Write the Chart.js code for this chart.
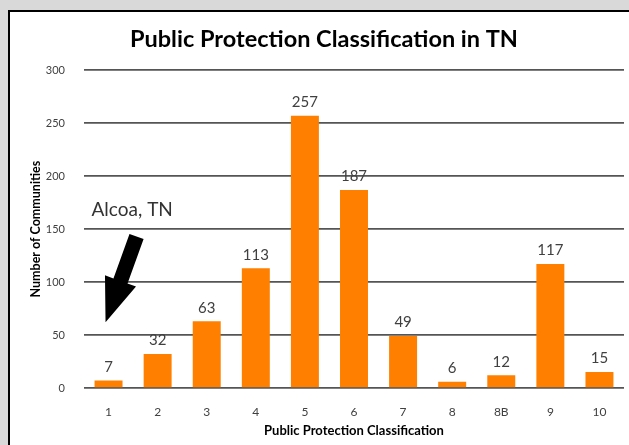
<!DOCTYPE html>
<html>
<head>
<meta charset="utf-8">
<title>Public Protection Classification in TN</title>
<script src="https://cdn.jsdelivr.net/npm/chart.js@4.4.1/dist/chart.umd.min.js"></script>
<style>
  body { margin: 0; background: #d9d9d9; width: 629px; height: 445px; overflow: hidden; position: relative; }
  #panel { position: absolute; left: 8px; top: 10px; width: 640px; height: 460px; background: #fff; border-left: 2px solid #000; border-top: 2px solid #000; }
  #myChart { position: absolute; left: 0; top: 0; }
</style>
</head>
<body>
<div id="panel"></div>
<canvas id="myChart" width="629" height="445"></canvas>
<script>
'use strict';
let classes = ['1', '2', '3', '4', '5', '6', '7', '8', '8B', '9', '10'];
let communities = [7, 32, 63, 113, 257, 187, 49, 6, 12, 117, 15];
let yTicks = [0, 50, 100, 150, 200, 250, 300];

let barColor = 'rgb(255, 128, 0)';
let textColor = '#404040';
let fontName = 'Lato, "Open Sans", sans-serif';

// value labels over each bar
let valueLabels = {
    id: 'valueLabels',
    afterDatasetsDraw(chart) {
        let ctx = chart.ctx;
        let meta = chart.getDatasetMeta(0);
        ctx.save();
        ctx.font = '15px ' + fontName;
        ctx.fillStyle = textColor;
        ctx.textAlign = 'center';
        ctx.textBaseline = 'bottom';
        for (let i = 0; i < meta.data.length; i++) {
            let bar = meta.data[i];
            ctx.fillText(communities[i], bar.x, bar.y - 6);
        }
        ctx.restore();
    }
};

// "Alcoa, TN" note with the big black arrow
let alcoaNote = {
    id: 'alcoaNote',
    afterDraw(chart) {
        let ctx = chart.ctx;
        let x = chart.scales.x;
        let y = chart.scales.y;
        let cx = x.getPixelForValue(0);
        let tipX = cx - 3, tipY = y.getPixelForValue(62);
        let tailX = cx + 28, tailY = y.getPixelForValue(143);
        let dx = tipX - tailX, dy = tipY - tailY;
        let len = Math.sqrt(dx * dx + dy * dy);
        let ux = dx / len, uy = dy / len;
        let px = -uy, py = ux;
        let shaft = 7.5, head = 16.5, headLen = 44;
        let bx = tipX - ux * headLen, by = tipY - uy * headLen;
        ctx.save();
        ctx.fillStyle = '#000';
        ctx.beginPath();
        ctx.moveTo(tailX + px * shaft, tailY + py * shaft);
        ctx.lineTo(bx + px * shaft, by + py * shaft);
        ctx.lineTo(bx + px * head, by + py * head);
        ctx.lineTo(tipX, tipY);
        ctx.lineTo(bx - px * head, by - py * head);
        ctx.lineTo(bx - px * shaft, by - py * shaft);
        ctx.lineTo(tailX - px * shaft, tailY - py * shaft);
        ctx.closePath();
        ctx.fill();
        ctx.font = '19px ' + fontName;
        ctx.fillStyle = '#333';
        ctx.textAlign = 'left';
        ctx.textBaseline = 'alphabetic';
        ctx.fillText('Alcoa, TN', cx - 17, y.getPixelForValue(162));
        ctx.restore();
    }
};

function chartRender() {
    let ctx = document.getElementById('myChart').getContext('2d');
    let myChart = new Chart(ctx, {
        type: 'bar',
        data: {
            labels: classes,
            datasets: [{
                label: 'Number of Communities',
                data: communities,
                backgroundColor: barColor,
                borderWidth: 0,
                categoryPercentage: 1,
                barPercentage: 0.57
            }]
        },
        options: {
            responsive: false,
            animation: false,
            devicePixelRatio: 1,
            layout: { padding: { left: 24, right: 5, top: 0, bottom: 5 } },
            plugins: {
                legend: { display: false },
                tooltip: { enabled: false },
                title: {
                    display: true,
                    text: 'Public Protection Classification in TN',
                    color: '#000',
                    font: { family: fontName, size: 23.5, weight: 'bold' },
                    padding: { top: 25, bottom: 17 }
                }
            },
            scales: {
                x: {
                    grid: { display: false },
                    border: { display: false },
                    ticks: { color: textColor, font: { family: fontName, size: 12 }, padding: 9 },
                    title: {
                        display: true,
                        text: 'Public Protection Classification',
                        color: '#000',
                        font: { family: fontName, size: 13, weight: 'bold' },
                        padding: { top: 0, bottom: 1 }
                    },
                    afterFit: function (s) { s.height = 445 - 388 - 5; }
                },
                y: {
                    min: 0,
                    max: 300,
                    afterBuildTicks: function (s) { s.ticks = yTicks.map(v => ({ value: v })); },
                    grid: { color: '#555', lineWidth: 1.7, drawTicks: false },
                    border: { display: false },
                    ticks: { color: textColor, font: { family: fontName, size: 11 }, padding: 19 },
                    title: {
                        display: true,
                        text: 'Number of Communities',
                        color: '#000',
                        font: { family: fontName, size: 12.5, weight: 'bold' },
                        padding: { top: 4, bottom: 0 }
                    },
                    afterFit: function (s) { s.width = 84 - 24; }
                }
            }
        },
        plugins: [valueLabels, alcoaNote]
    });
}
chartRender();
</script>
</body>
</html>
